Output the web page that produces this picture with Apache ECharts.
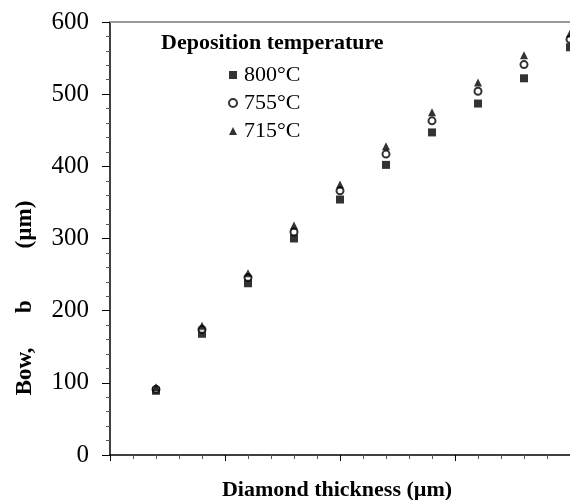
<!DOCTYPE html>
<html>
<head>
<meta charset="utf-8">
<script src="https://cdn.jsdelivr.net/npm/echarts@6/dist/echarts.min.js"></script>
<style>
  html, body { margin: 0; padding: 0; background: #fff; }
  #chart { width: 570px; height: 500px; }
</style>
</head>
<body>
<div id="chart"></div>
<script>
// Diamond thickness positions (arbitrary axis units, no labels shown)
const thickness = [2, 4, 6, 8, 10, 12, 14, 16, 18, 20];
// Bow (µm) for each deposition temperature
const bow800 = [89, 168, 238, 300, 354, 402, 447, 487, 522, 565];
const bow755 = [91, 174, 246, 309, 366, 417, 463, 504, 541, 576];
const bow715 = [94, 179, 252, 318, 375, 428, 475, 516, 554, 584];
const seriesNames = ['800°C', '755°C', '715°C'];
const yTicks = [0, 100, 200, 300, 400, 500, 600];

const FONT = '"Liberation Serif", "Times New Roman", serif';
const pair = (xs, ys) => xs.map((x, i) => [x, ys[i]]);

const chart = echarts.init(document.getElementById('chart'), null, { renderer: 'canvas' });
chart.setOption({
  animation: false,
  backgroundColor: '#fff',
  title: {
    text: 'Deposition temperature',
    left: 161, top: 32, padding: 0,
    textStyle: { fontFamily: FONT, fontWeight: 'bold', fontSize: 22, color: '#000' }
  },
  legend: {
    orient: 'vertical',
    left: 228, top: 64, padding: 0,
    itemWidth: 8, itemHeight: 8, itemGap: 6,
    data: seriesNames,
    textStyle: { fontFamily: FONT, fontSize: 22, color: '#000', padding: [0, 0, 0, 2] }
  },
  grid: { left: 110, right: 0, top: 22, bottom: 45, containLabel: false, outerBoundsMode: 'none' },
  xAxis: [{
    type: 'value', min: 0, max: 20, interval: 5,
    axisLine: { show: true, lineStyle: { color: '#000', width: 1.5 } },
    axisTick: { show: true, inside: false, length: 6, lineStyle: { color: '#000' } },
    minorTick: { show: true, splitNumber: 5, length: 4, lineStyle: { color: '#555' } },
    axisLabel: { show: false },
    splitLine: { show: false },
    name: 'Diamond thickness (µm)',
    nameLocation: 'middle', nameGap: 24,
    nameTextStyle: { fontFamily: FONT, fontWeight: 'bold', fontSize: 22, color: '#000', padding: [0, 6, 0, 0] }
  }, {
    type: 'value', position: 'top', min: 0, max: 20,
    axisLine: { show: true, lineStyle: { color: '#999', width: 2 } },
    axisTick: { show: false }, axisLabel: { show: false }, splitLine: { show: false }
  }],
  yAxis: {
    type: 'value', min: yTicks[0], max: yTicks[yTicks.length - 1], interval: 100,
    axisLine: { show: true, lineStyle: { color: '#000', width: 1.5 } },
    axisTick: { show: true, inside: false, length: 8, lineStyle: { color: '#000' } },
    minorTick: { show: true, splitNumber: 5, length: 4, lineStyle: { color: '#555' } },
    axisLabel: { fontFamily: FONT, fontSize: 25, color: '#000', margin: 21 },
    splitLine: { show: false }
  },
  graphic: [{
    type: 'text',
    x: 25, y: 298, rotation: Math.PI / 2,
    style: {
      text: 'Bow,      b         (µm)',
      font: 'bold 23px ' + FONT, fill: '#000',
      align: 'center', verticalAlign: 'middle'
    }
  }],
  series: [{
    name: seriesNames[0], type: 'scatter', symbol: 'rect', symbolSize: 8,
    itemStyle: { color: '#000' },
    data: pair(thickness, bow800), clip: false, z: 3
  }, {
    name: seriesNames[1], type: 'scatter', symbol: 'emptyCircle', symbolSize: 7,
    itemStyle: { color: '#000', borderColor: '#000', borderWidth: 1 },
    data: pair(thickness, bow755), clip: false, z: 4
  }, {
    name: seriesNames[2], type: 'scatter', symbol: 'triangle', symbolSize: 8,
    itemStyle: { color: '#000' },
    data: pair(thickness, bow715), clip: false, z: 5
  }]
});
</script>
</body>
</html>
